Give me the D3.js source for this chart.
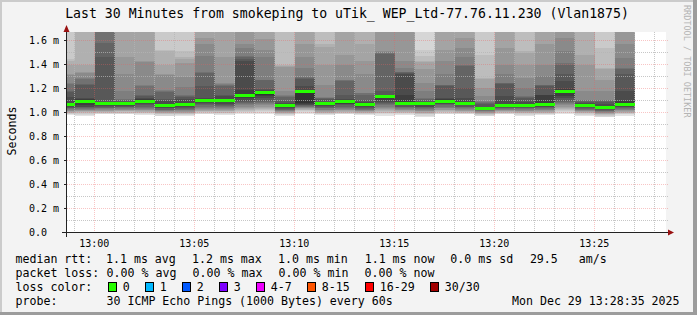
<!DOCTYPE html>
<html>
<head>
<meta charset="utf-8">
<script src="https://cdn.jsdelivr.net/npm/d3@7"></script>
<style>
body { margin: 0; background: #f3f3f3; }
svg { display: block; font-family: "DejaVu Sans Mono", monospace; }
</style>
</head>
<body>
<div id="chart"></div>
<script>
// one step per minute, the time is the end of each step
var stepEnds = ["12:59","13:00","13:01","13:02","13:03","13:04","13:05","13:06","13:07","13:08",
  "13:09","13:10","13:11","13:12","13:13","13:14","13:15","13:16","13:17","13:18",
  "13:19","13:20","13:21","13:22","13:23","13:24","13:25","13:26","13:27"];

// median rtt (ms)
var medians = [1.067,1.100,1.078,1.078,1.100,1.064,1.069,1.108,1.108,1.147,
  1.169,1.060,1.183,1.078,1.093,1.067,1.136,1.083,1.078,1.100,
  1.080,1.035,1.064,1.064,1.067,1.182,1.064,1.047,1.072];

// lost pings per step
var lossCounts = [0,0,0,0,0,0,0,0,0,0,0,0,0,0,0,0,0,0,0,0,0,0,0,0,0,0,0,0,0];

// sorted pings below the median (p1..p15), ms
var lowPings = [
  [0.98,0.985,0.99,0.995,1.0,1.005,1.01,1.015,1.02,1.03,1.035,1.04,1.05,1.055,1.06],
  [0.97,0.98,0.99,1.0,1.005,1.01,1.015,1.02,1.025,1.03,1.04,1.045,1.05,1.06,1.08],
  [0.985,0.99,0.995,1.0,1.005,1.01,1.015,1.02,1.03,1.035,1.04,1.05,1.055,1.06,1.07],
  [0.985,0.99,0.995,1.0,1.01,1.015,1.02,1.025,1.03,1.04,1.045,1.05,1.055,1.065,1.07],
  [0.98,0.99,0.995,1.0,1.005,1.01,1.02,1.025,1.03,1.04,1.05,1.06,1.07,1.08,1.09],
  [0.97,0.975,0.985,0.99,0.995,1.0,1.005,1.01,1.015,1.02,1.025,1.035,1.04,1.05,1.055],
  [0.97,0.98,0.985,0.99,0.995,1.0,1.005,1.01,1.02,1.025,1.03,1.04,1.045,1.055,1.06],
  [0.985,0.99,1.0,1.005,1.01,1.015,1.02,1.03,1.04,1.05,1.06,1.07,1.08,1.09,1.10],
  [0.98,0.99,0.995,1.0,1.01,1.015,1.02,1.03,1.035,1.045,1.055,1.065,1.075,1.085,1.095],
  [0.99,1.0,1.005,1.01,1.02,1.03,1.04,1.05,1.06,1.07,1.08,1.09,1.10,1.12,1.13],
  [0.99,1.0,1.01,1.02,1.03,1.04,1.05,1.06,1.07,1.08,1.09,1.10,1.12,1.14,1.15],
  [0.975,0.98,0.985,0.99,0.995,1.0,1.005,1.01,1.015,1.02,1.025,1.03,1.04,1.045,1.055],
  [0.99,1.0,1.01,1.02,1.025,1.03,1.035,1.04,1.045,1.05,1.055,1.06,1.065,1.07,1.08],
  [0.98,0.985,0.99,0.995,1.0,1.005,1.01,1.02,1.025,1.035,1.04,1.05,1.055,1.065,1.07],
  [0.985,0.99,0.995,1.0,1.005,1.01,1.02,1.025,1.03,1.04,1.05,1.06,1.07,1.075,1.085],
  [0.98,0.985,0.99,0.995,1.0,1.005,1.01,1.015,1.02,1.025,1.03,1.04,1.045,1.055,1.06],
  [0.975,0.985,0.995,1.0,1.01,1.02,1.03,1.04,1.05,1.06,1.07,1.08,1.09,1.105,1.12],
  [0.98,0.99,0.995,1.0,1.005,1.01,1.02,1.025,1.03,1.04,1.045,1.05,1.06,1.07,1.075],
  [0.965,0.975,0.985,0.99,0.995,1.0,1.01,1.015,1.02,1.03,1.035,1.045,1.05,1.06,1.07],
  [0.985,0.99,1.0,1.005,1.01,1.02,1.025,1.035,1.04,1.05,1.06,1.07,1.075,1.085,1.09],
  [0.985,0.99,0.995,1.0,1.005,1.01,1.015,1.02,1.03,1.035,1.045,1.05,1.06,1.065,1.075],
  [0.97,0.975,0.98,0.985,0.99,0.995,1.0,1.005,1.01,1.015,1.02,1.02,1.025,1.03,1.03],
  [0.985,0.99,0.995,1.0,1.005,1.01,1.015,1.02,1.025,1.03,1.035,1.04,1.05,1.055,1.06],
  [0.975,0.98,0.99,0.995,1.0,1.005,1.01,1.015,1.02,1.03,1.035,1.04,1.045,1.055,1.06],
  [0.98,0.985,0.99,0.995,1.0,1.005,1.01,1.02,1.025,1.03,1.04,1.045,1.05,1.055,1.06],
  [0.99,1.0,1.01,1.02,1.03,1.04,1.05,1.06,1.07,1.08,1.09,1.10,1.12,1.14,1.16],
  [0.975,0.98,0.99,0.995,1.0,1.005,1.01,1.015,1.02,1.025,1.03,1.04,1.045,1.05,1.06],
  [0.96,0.965,0.975,0.98,0.985,0.99,0.995,1.0,1.005,1.01,1.015,1.02,1.03,1.035,1.04],
  [0.975,0.985,0.99,0.995,1.0,1.005,1.01,1.02,1.025,1.03,1.035,1.045,1.05,1.06,1.065]
];

// sorted pings above the median (p17..p30), ms
var highPings = [
  [1.07,1.13,1.17,1.18,1.24,1.25,1.31,1.32,1.40,1.43,1.45,1.75,1.9,2.2],
  [1.11,1.12,1.23,1.24,1.28,1.29,1.33,1.34,1.40,1.75,1.9,2.0,2.2,2.5],
  [1.085,1.09,1.46,1.58,1.72,1.8,1.9,2.0,2.1,2.2,2.35,2.5,2.7,3.0],
  [1.085,1.09,1.10,1.105,1.11,1.18,1.32,1.46,1.72,1.85,2.0,2.2,2.4,2.7],
  [1.11,1.12,1.14,1.15,1.22,1.23,1.42,1.43,1.72,1.85,2.0,2.2,2.4,2.7],
  [1.07,1.10,1.11,1.17,1.18,1.19,1.31,1.32,1.40,1.51,1.525,1.72,1.9,2.2],
  [1.08,1.11,1.13,1.14,1.15,1.21,1.30,1.41,1.45,1.46,1.51,1.72,1.9,2.2],
  [1.115,1.12,1.22,1.33,1.34,1.47,1.57,1.62,1.72,1.85,2.0,2.2,2.4,2.7],
  [1.115,1.14,1.15,1.22,1.23,1.24,1.25,1.46,1.72,1.85,2.0,2.2,2.4,2.7],
  [1.19,1.43,1.45,1.46,1.47,1.54,1.57,1.72,1.8,1.9,2.0,2.2,2.4,2.7],
  [1.18,1.19,1.20,1.27,1.275,1.46,1.52,1.61,1.72,1.85,2.0,2.2,2.4,2.7],
  [1.07,1.08,1.10,1.13,1.14,1.15,1.18,1.38,1.39,1.40,1.75,1.9,2.1,2.4],
  [1.19,1.22,1.28,1.29,1.30,1.375,1.46,1.57,1.72,1.85,2.0,2.2,2.4,2.7],
  [1.085,1.09,1.11,1.12,1.125,1.13,1.23,1.40,1.55,1.57,1.75,1.9,2.1,2.4],
  [1.10,1.11,1.15,1.26,1.27,1.275,1.40,1.48,1.72,1.85,2.0,2.2,2.4,2.7],
  [1.075,1.085,1.108,1.15,1.16,1.164,1.317,1.43,1.567,1.75,1.9,2.1,2.3,2.6],
  [1.145,1.15,1.18,1.49,1.50,1.505,1.51,1.72,1.8,1.9,2.0,2.2,2.4,2.7],
  [1.15,1.317,1.33,1.335,1.34,1.37,1.43,1.72,1.8,1.9,2.0,2.2,2.4,2.7],
  [1.085,1.09,1.10,1.11,1.12,1.18,1.25,1.36,1.42,1.43,1.47,1.525,1.8,2.1],
  [1.11,1.12,1.22,1.23,1.233,1.317,1.43,1.525,1.72,1.85,2.0,2.2,2.4,2.7],
  [1.09,1.12,1.206,1.39,1.40,1.46,1.54,1.62,1.72,1.85,2.0,2.2,2.4,2.7],
  [1.04,1.05,1.07,1.08,1.09,1.094,1.136,1.206,1.28,1.29,1.483,1.72,1.9,2.2],
  [1.07,1.136,1.24,1.245,1.25,1.317,1.40,1.54,1.72,1.85,2.0,2.2,2.4,2.7],
  [1.075,1.089,1.12,1.13,1.136,1.206,1.29,1.40,1.50,1.51,1.75,1.9,2.1,2.4],
  [1.145,1.15,1.22,1.23,1.233,1.303,1.40,1.567,1.72,1.85,2.0,2.2,2.4,2.7],
  [1.20,1.26,1.317,1.40,1.414,1.51,1.62,1.72,1.8,1.9,2.0,2.2,2.4,2.7],
  [1.07,1.08,1.09,1.10,1.105,1.108,1.178,1.40,1.483,1.75,1.9,2.1,2.3,2.6],
  [1.055,1.067,1.09,1.10,1.105,1.108,1.178,1.275,1.36,1.37,1.54,1.75,1.9,2.2],
  [1.10,1.178,1.317,1.36,1.37,1.456,1.567,1.72,1.8,1.9,2.0,2.2,2.4,2.7]
];

var yTicks = [0, 0.2, 0.4, 0.6, 0.8, 1.0, 1.2, 1.4, 1.6];
var yMinor = [0.1, 0.3, 0.5, 0.7, 0.9, 1.1, 1.3, 1.5];
var xTickLabels = ["13:00","13:05","13:10","13:15","13:20","13:25"];

var lossLabels = ["0","1","2","3","4-7","8-15","16-29","30/30"];
var lossColors = ["#26ff00","#00b8ff","#0059ff","#7e00ff","#ee00ff","#ff5500","#ff0000","#a10000"];
var lossBoxX = [108.5,145.5,182.5,219.5,256.5,307.5,365.5,430.5];

var rttLegend = [["median rtt:",15.5],["1.1 ms avg",106],["1.2 ms max",192],["1.0 ms min",278],
  ["1.1 ms now",364.7],["0.0 ms sd",450.3],["29.5   am/s",529.9]];
var lossLegend = [["packet loss:",15.5],["0.00 % avg",106.6],["0.00 % max",192.6],["0.00 % min",278.6],["0.00 % now",364.6]];
var probeLegend = [["probe:",15.5],["30 ICMP Echo Pings (1000 Bytes) every 60s",106.5],["Mon Dec 29 13:28:35 2025",512]];

var W = 697, H = 315;
var day = function (s) {
  var p = s.split(":");
  return new Date(2025, 11, 29, +p[0], +p[1], p[2] ? +p[2] : 0);
};
var t0 = day("12:58:35"), t1 = day("13:28:35");

var x = d3.scaleTime().domain([t0, t1]).range([66, 666]);
var y = d3.scaleLinear().domain([0, 1.675]).range([232.5, 31.5]);

var svg = d3.select("#chart").append("svg")
  .attr("width", W).attr("height", H);

// background and 3d frame
svg.append("rect").attr("width", W).attr("height", H).attr("fill", "#f3f3f3");
svg.append("rect").attr("x", 0).attr("y", 0).attr("width", W).attr("height", 2).attr("fill", "#cbcbcb");
svg.append("rect").attr("x", 0).attr("y", 0).attr("width", 2).attr("height", H).attr("fill", "#cbcbcb");
svg.append("rect").attr("x", W - 4).attr("y", 0).attr("width", 4).attr("height", H).attr("fill", "#9c9c9c");
svg.append("rect").attr("x", 0).attr("y", H - 3).attr("width", W).attr("height", 3).attr("fill", "#9c9c9c");

// canvas
svg.append("rect").attr("x", 66).attr("y", 32).attr("width", 600).attr("height", 201).attr("fill", "#fff");

svg.append("clipPath").attr("id", "cv").append("rect")
  .attr("x", 66).attr("y", 32).attr("width", 600).attr("height", 201);

// smoke: layer k spans ping k to ping 31-k, darker towards the middle
var smokeGrey = function (k) {
  var c = Math.floor(190 / 15 * (15 - k)) + 50;
  return d3.rgb(c, c, c).toString();
};
var steps = stepEnds.map(function (s, i) {
  var end = day(s);
  var start = new Date(end.getTime() - 60000);
  return {
    x0: Math.max(66, Math.ceil(x(start))),
    x1: Math.ceil(x(end)),
    pings: lowPings[i].concat([medians[i]], highPings[i]),
    median: medians[i],
    loss: lossCounts[i]
  };
});

var gSmoke = svg.append("g").attr("clip-path", "url(#cv)").attr("shape-rendering", "crispEdges");
for (var k = 1; k <= 15; k++) {
  gSmoke.append("g").selectAll("rect").data(steps).join("rect")
    .attr("x", function (d) { return d.x0; })
    .attr("width", function (d) { return d.x1 - d.x0; })
    .attr("y", function (d) { return y(d.pings[30 - k]); })
    .attr("height", function (d) { return Math.max(0, y(d.pings[k - 1]) - y(d.pings[30 - k])); })
    .attr("fill", smokeGrey(k));
}

// grid, dotted
var gGrid = svg.append("g").attr("stroke-dasharray", "1,1").attr("stroke-width", 1);
var minutes = d3.timeMinute.range(day("12:59"), day("13:29"));
var minorCol = "rgba(180,180,180,0.75)", majorCol = "rgba(235,95,95,0.36)";
gGrid.selectAll(".vmin").data(minutes.filter(function (d) { return d.getMinutes() % 5 !== 0; }))
  .join("line").attr("class", "vmin")
  .attr("x1", function (d) { return Math.floor(x(d)) + 0.5; })
  .attr("x2", function (d) { return Math.floor(x(d)) + 0.5; })
  .attr("y1", 32).attr("y2", 232)
  .attr("stroke", minorCol);
gGrid.selectAll(".hmin").data(yMinor).join("line").attr("class", "hmin")
  .attr("x1", 67).attr("x2", 668)
  .attr("y1", function (d) { return y(d); }).attr("y2", function (d) { return y(d); })
  .attr("stroke", minorCol);
gGrid.selectAll(".vmaj").data(xTickLabels.map(day)).join("line").attr("class", "vmaj")
  .attr("x1", function (d) { return Math.floor(x(d)) + 0.5; })
  .attr("x2", function (d) { return Math.floor(x(d)) + 0.5; })
  .attr("y1", 32).attr("y2", 232)
  .attr("stroke", majorCol);
gGrid.selectAll(".hmaj").data(yTicks.slice(1)).join("line").attr("class", "hmaj")
  .attr("x1", 67).attr("x2", 668)
  .attr("y1", function (d) { return y(d); }).attr("y2", function (d) { return y(d); })
  .attr("stroke", majorCol);

// median, coloured by loss
svg.append("g").attr("clip-path", "url(#cv)").attr("shape-rendering", "crispEdges")
  .selectAll("rect").data(steps).join("rect")
  .attr("x", function (d) { return d.x0; })
  .attr("width", function (d) { return d.x1 - d.x0; })
  .attr("y", function (d) { return Math.round(y(d.median)) - 1.5; })
  .attr("height", 3)
  .attr("fill", function (d) { return lossColors[Math.min(d.loss, 7)]; });

// axes
var gAxis = svg.append("g").attr("shape-rendering", "crispEdges");
gAxis.append("line").attr("x1", 62).attr("x2", 670).attr("y1", 232.5).attr("y2", 232.5).attr("stroke", "#222");
gAxis.append("line").attr("x1", 66.5).attr("x2", 66.5).attr("y1", 237).attr("y2", 28).attr("stroke", "#222");
gAxis.selectAll(".yt").data(yTicks.slice(1)).join("line").attr("class", "yt")
  .attr("x1", 64).attr("x2", 66).attr("y1", function (d) { return y(d); }).attr("y2", function (d) { return y(d); })
  .attr("stroke", "#222");
svg.append("path").attr("d", "M66.5,25 L69.5,32 L63.5,32 Z").attr("fill", "#991111");
svg.append("path").attr("d", "M674,232.5 L668,229.5 L668,235.5 Z").attr("fill", "#991111");

// tick labels
svg.append("g").selectAll("text").data(yTicks).join("text")
  .attr("x", 29).attr("y", function (d) { return y(d) + 3.5; })
  .attr("font-size", 10).attr("fill", "#000")
  .text(function (d) { return d === 0 ? "0.0" : d.toFixed(1) + " m"; });
svg.append("g").selectAll("text").data(xTickLabels).join("text")
  .attr("x", function (d) { return x(day(d)); }).attr("y", 246.5)
  .attr("text-anchor", "middle").attr("font-size", 10).attr("fill", "#000")
  .text(function (d) { return d; });

// titles
svg.append("text").attr("x", 347).attr("y", 18).attr("text-anchor", "middle")
  .attr("font-size", 13.2).attr("fill", "#000")
  .text("Last 30 Minutes from smokeping to uTik_ WEP_Ltd-77.76.11.230 (Vlan1875)");
svg.append("text").attr("transform", "translate(15.5,131) rotate(-90)")
  .attr("text-anchor", "middle").attr("font-size", 11.6).attr("fill", "#000")
  .text("Seconds");
svg.append("text").attr("transform", "translate(683.5,5) rotate(90)")
  .attr("font-size", 8.5).attr("fill", "#b4b4b4")
  .text("RRDTOOL / TOBI OETIKER");

// legend
var legendRow = function (items, yy) {
  svg.append("g").selectAll("text").data(items).join("text")
    .attr("x", function (d) { return d[1]; }).attr("y", yy)
    .attr("font-size", 11.6).attr("fill", "#000")
    .attr("xml:space", "preserve")
    .text(function (d) { return d[0]; });
};
legendRow(rttLegend, 263);
legendRow(lossLegend, 277);
legendRow([["loss color:", 15.5]], 291);
legendRow(probeLegend, 305);

var gLoss = svg.append("g").attr("shape-rendering", "crispEdges");
gLoss.selectAll("rect").data(lossLabels).join("rect")
  .attr("x", function (d, i) { return lossBoxX[i]; }).attr("y", 282.5)
  .attr("width", 8).attr("height", 9)
  .attr("fill", function (d, i) { return lossColors[i]; })
  .attr("stroke", "#000");
gLoss.selectAll("text").data(lossLabels).join("text")
  .attr("x", function (d, i) { return lossBoxX[i] + 14.3; }).attr("y", 291)
  .attr("font-size", 11.6).attr("fill", "#000")
  .text(function (d) { return d; });
</script>
</body>
</html>
